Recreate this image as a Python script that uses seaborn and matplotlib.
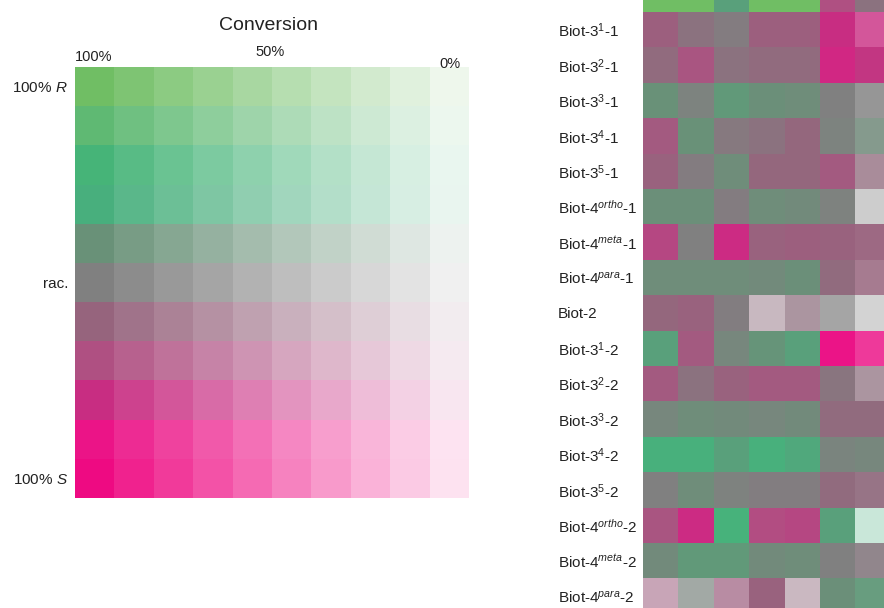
import numpy as np
import matplotlib
matplotlib.use("Agg")
import matplotlib.pyplot as plt
from matplotlib.colors import ListedColormap
import seaborn as sns

# legend grid: enantiomeric excess (rows) x conversion (columns)
legend_ee = [100, 80, 60, 40, 20, 0, -20, -40, -60, -80, -100]
legend_conv = list(np.linspace(100, 0, 10))
legend_row_labels = ["100% $\\mathit{R}$", "rac.", "100% $\\mathit{S}$"]
legend_row_ticks = [0, 5, 10]
conv_tick_labels = ["100%", "50%", "0%"]

# screening heatmap
samples = ["Biot-1", "Biot-3$^{1}$-1", "Biot-3$^{2}$-1", "Biot-3$^{3}$-1",
           "Biot-3$^{4}$-1", "Biot-3$^{5}$-1", "Biot-4$^{\\mathit{ortho}}$-1",
           "Biot-4$^{\\mathit{meta}}$-1", "Biot-4$^{\\mathit{para}}$-1", "Biot-2",
           "Biot-3$^{1}$-2", "Biot-3$^{2}$-2", "Biot-3$^{3}$-2", "Biot-3$^{4}$-2",
           "Biot-3$^{5}$-2", "Biot-4$^{\\mathit{ortho}}$-2",
           "Biot-4$^{\\mathit{meta}}$-2", "Biot-4$^{\\mathit{para}}$-2"]

ee = [
    [100, 100, 30, 100, 100, -40, -10],
    [-25, -10, -3, -25, -25, -60, -60],
    [-15, -35, -10, -15, -15, -65, -55],
    [20, 3, 25, 18, 15, 0, 0],
    [-30, 20, -5, -10, -18, 3, 12],
    [-22, -3, 15, -18, -18, -30, -15],
    [18, 18, -3, 15, 12, 2, 0],
    [-45, 0, -62, -22, -25, -22, -22],
    [15, 15, 15, 12, 18, -15, -20],
    [-18, -22, -2, -13, -12, 0, 0],
    [30, -30, 8, 22, 30, -80, -80],
    [-30, -10, -22, -30, -30, -8, -12],
    [8, 15, 12, 8, 12, -15, -15],
    [45, 45, 30, 45, 35, 5, 8],
    [0, 15, 2, -2, -2, -15, -15],
    [-35, -62, 50, -42, -45, 30, 40],
    [12, 25, 25, 12, 15, 0, -5],
    [-25, 5, -25, -22, -15, 18, 25],
]
conversion = [
    [100, 100, 100, 100, 100, 100, 100],
    [100, 100, 100, 100, 100, 100, 78],
    [100, 100, 100, 100, 100, 100, 100],
    [100, 100, 100, 100, 100, 100, 80],
    [100, 100, 100, 100, 100, 100, 85],
    [100, 100, 100, 100, 100, 100, 75],
    [100, 100, 100, 100, 100, 100, 31],
    [100, 100, 100, 100, 100, 100, 95],
    [100, 100, 100, 100, 100, 100, 83],
    [100, 100, 100, 42, 70, 67, 26],
    [100, 100, 100, 100, 100, 100, 82],
    [100, 100, 100, 100, 100, 100, 70],
    [100, 100, 100, 100, 100, 100, 100],
    [100, 100, 100, 100, 100, 100, 100],
    [100, 100, 100, 100, 100, 100, 93],
    [100, 100, 100, 100, 100, 100, 20],
    [100, 100, 100, 100, 100, 100, 89],
    [50, 66, 68, 100, 41, 100, 95],
]

# colour at full conversion for each ee anchor (R green -> grey -> S magenta)
anchor_ee = [100, 80, 60, 40, 20, 0, -20, -40, -60, -80, -100]
anchor_rgb = np.array([(112, 190, 100), (95, 185, 115), (70, 180, 120), (72, 175, 125),
                       (105, 145, 120), (128, 128, 128), (150, 100, 125), (175, 80, 130),
                       (200, 45, 130), (235, 20, 135), (238, 10, 130)], dtype=float)


def cell_color(e, c):
    base = np.array([np.interp(e, anchor_ee[::-1], anchor_rgb[::-1, k]) for k in range(3)])
    strength = 0.12 + 0.88 * c / 100.0
    return tuple((255 - (255 - base) * strength) / 255.0)


def color_heatmap(ax, ee_grid, conv_grid):
    ee_grid = np.asarray(ee_grid, dtype=float)
    conv_grid = np.asarray(conv_grid, dtype=float)
    colors = [cell_color(e, c) for e, c in zip(ee_grid.ravel(), conv_grid.ravel())]
    idx = np.arange(len(colors)).reshape(ee_grid.shape)
    sns.heatmap(idx, cmap=ListedColormap(colors), vmin=-0.5, vmax=len(colors) - 0.5,
                cbar=False, ax=ax, xticklabels=False, yticklabels=False)


sns.set_theme(style="white")
plt.rcParams["font.family"] = ["Liberation Sans", "DejaVu Sans"]
plt.rcParams["mathtext.fontset"] = "custom"
plt.rcParams["mathtext.rm"] = "Liberation Sans"
plt.rcParams["mathtext.it"] = "Liberation Sans:italic"
txt = "#222222"

fig = plt.figure(figsize=(8.84, 6.08), dpi=100)

# left: colour key
ax1 = fig.add_axes([75 / 884, 1 - 498 / 608, 394 / 884, 431 / 608])
ee_grid = [[e] * len(legend_conv) for e in legend_ee]
conv_grid = [legend_conv for _ in legend_ee]
color_heatmap(ax1, ee_grid, conv_grid)
ax1.set_yticks(np.array(legend_row_ticks) + 0.5, legend_row_labels, rotation=0)
ax1.tick_params(axis="y", length=0, pad=5, labelsize=11, labelcolor=txt)
xt = ax1.get_xaxis_transform()
ax1.text(0, 1.023, conv_tick_labels[0], transform=xt, ha="left", va="center",
         fontsize=10.5, color=txt)
ax1.text(4.95, 1.035, conv_tick_labels[1], transform=xt, ha="center", va="center",
         fontsize=10.5, color=txt)
ax1.text(9.78, 1.008, conv_tick_labels[2], transform=xt, ha="right", va="center",
         fontsize=10.5, color=txt)
fig.text(268 / 884, 1 - 25 / 608, "Conversion", ha="center", va="center",
         fontsize=14, color=txt)

# right: screening results (cropped like the source panel)
n_rows, n_cols = len(samples), len(ee[0])
cell = 35.4
top = -23.4
ax2 = fig.add_axes([643 / 884, 1 - (top + n_rows * cell) / 608,
                    n_cols * cell / 884, n_rows * cell / 608])
color_heatmap(ax2, ee, conversion)
ax2.set_yticks(np.arange(n_rows) + 0.5, samples, rotation=0)
for lab in ax2.get_yticklabels():
    lab.set_ha("left")
ax2.tick_params(axis="y", length=0, pad=61.2, labelsize=11, labelcolor=txt)

for ax in (ax1, ax2):
    for s in ax.spines.values():
        s.set_visible(False)

fig.savefig("out.png", dpi=100)
